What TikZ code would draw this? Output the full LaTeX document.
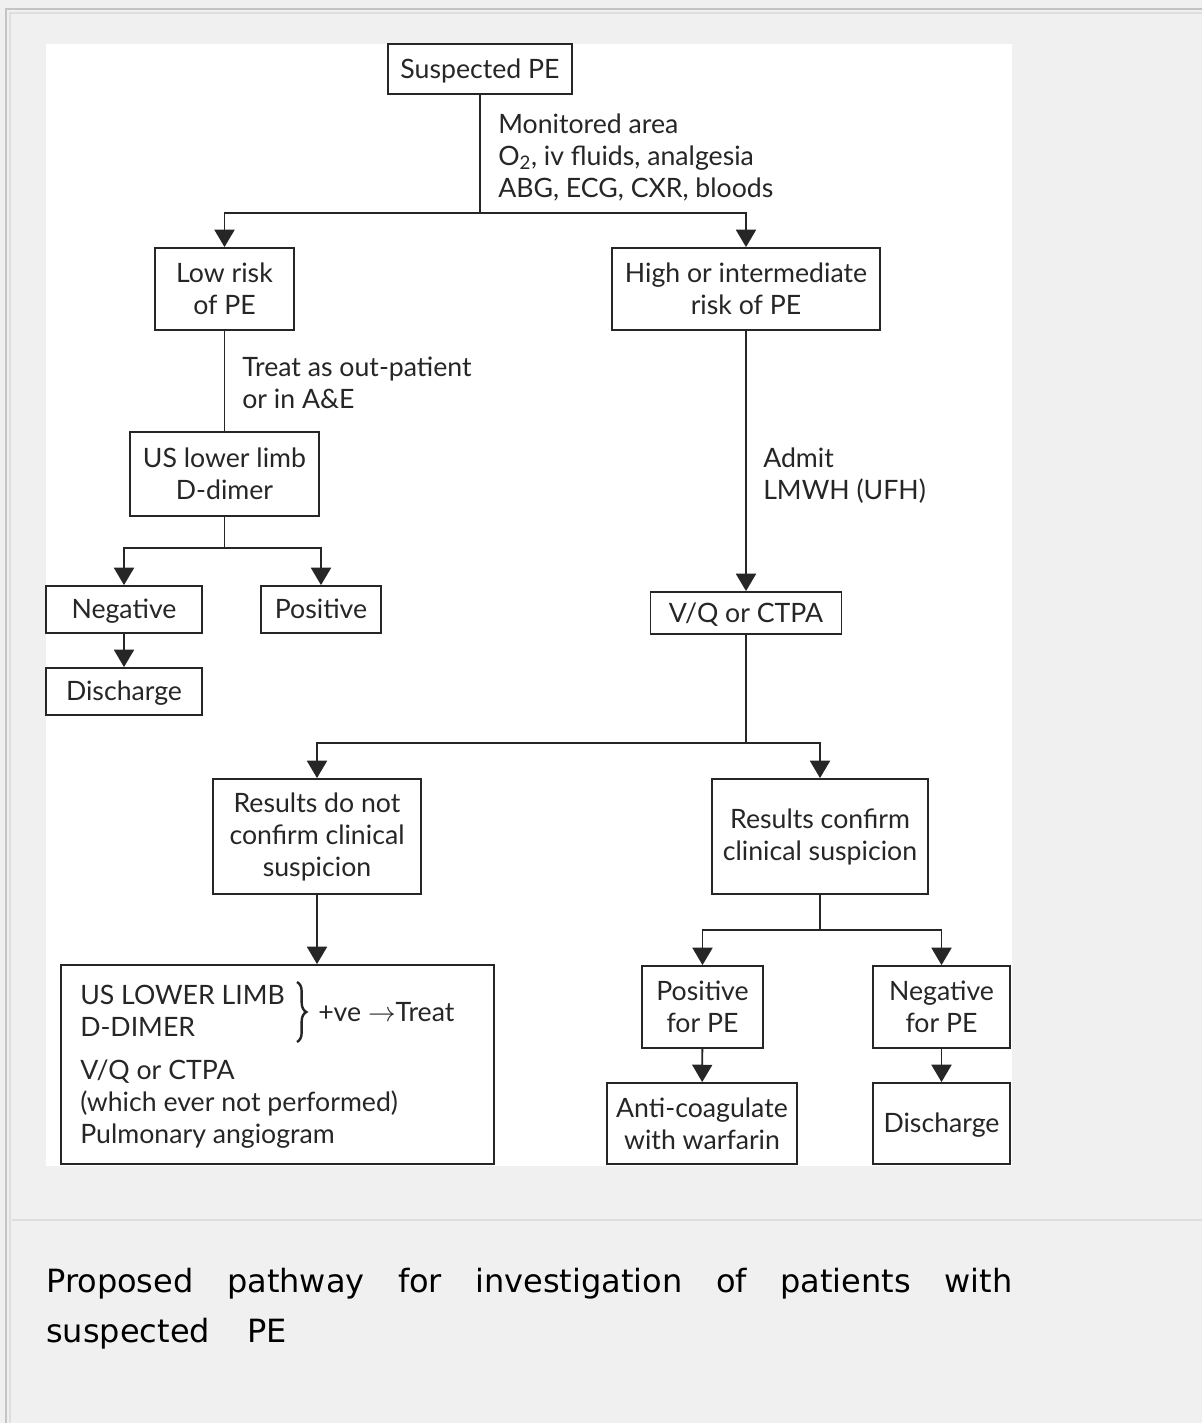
\documentclass[tikz,border=0pt]{standalone}
\usepackage{fontspec}
\setmainfont{Lato}
\newfontfamily\capfont{DejaVu Sans}
\usetikzlibrary{arrows.meta,decorations.pathreplacing}
\definecolor{pagebg}{HTML}{F0F0F0}
\definecolor{ink}{HTML}{262626}
\definecolor{frameA}{HTML}{C4C4C4}
\definecolor{frameB}{HTML}{DEDEDE}
\newcommand\dgfont{\fontsize{20}{24}\selectfont}
\newcommand\cpfont{\capfont\fontsize{24}{28}\selectfont}

\begin{document}
\begin{tikzpicture}[x=0.75pt,y=-0.75pt,
  box/.style={draw=ink, line width=1.4pt, fill=white, inner sep=0pt,
              align=center, font=\dgfont, text=ink},
  oneline/.style={text height=17pt, text depth=3pt},
  sz/.style 2 args={minimum width=#1*0.75pt, minimum height=#2*0.75pt},
  ln/.style={draw=ink, line width=1.4pt},
  arr/.style={ln, -{Triangle[width=15pt,length=13pt]}},
  lbl/.style={inner sep=0pt, anchor=west, align=left, font=\dgfont, text=ink},
  captxt/.style={inner sep=0pt, anchor=base west, font=\cpfont, text=black},
]
% page background and frame
\fill[pagebg] (0,0) rectangle (1202,1423);
\useasboundingbox (0,0) rectangle (1202,1423);
\draw[frameA, line width=0.9pt] (6,1423) -- (6,9) -- (1202,9);
\draw[frameB, line width=0.9pt] (10,1423) -- (10,13) -- (1202,13);
\draw[frameB, line width=1.2pt] (12,1220) -- (1202,1220);

% white panel holding the chart
\fill[white] (46,44) rectangle (1012,1166);

% boxes
\node[box, oneline, sz={184}{50}]  (susp) at (480,69)      {Suspected PE};
\node[box, sz={139}{82}]  (low)  at (224.5,289)   {Low risk\\of PE};
\node[box, sz={268}{82}]  (high) at (746,289)     {High or intermediate\\risk of PE};
\node[box, sz={189}{84}]  (us)   at (224.5,474)   {US lower limb\\D-dimer};
\node[box, oneline, sz={156}{47}]  (neg)  at (124,609.5)   {Negative};
\node[box, oneline, sz={120}{47}]  (pos)  at (321,609.5)   {Positive};
\node[box, oneline, sz={156}{47}]  (dis1) at (124,691.5)   {Discharge};
\node[box, oneline, sz={191}{42}]  (vq)   at (746,613)     {V/Q or CTPA};
\node[box, sz={208}{115}] (rno)  at (317,836.5)   {Results do not\\confirm clinical\\suspicion};
\node[box, sz={216}{115}] (rcf)  at (820,836.5)   {Results confirm\\clinical suspicion};
\node[box, sz={433}{199}] (big)  at (277.5,1064.5) {};
\node[box, sz={121}{82}]  (ppe)  at (702.5,1007)  {Positive\\for PE};
\node[box, sz={137}{82}]  (npe)  at (941.5,1007)  {Negative\\for PE};
\node[box, sz={190}{81}]  (anti) at (702,1123.5)  {Anti-coagulate\\with warfarin};
\node[box, oneline, sz={137}{81}]  (dis2) at (941.5,1123.5) {Discharge};

% contents of the large box
\node[lbl] (bigA) at (80,1011) {US LOWER LIMB\\D-DIMER};
\draw[ink, line width=1.8pt, decorate, decoration={brace, amplitude=7pt}]
  (297,982) -- (297,1042);
\node[lbl] (bigT) at (318,1012) {+ve $\rightarrow$Treat};
\node[lbl] (bigB) at (80,1104) {V/Q or CTPA\\(which ever not performed)\\Pulmonary angiogram};

% junction points
\coordinate (j1) at (480,213);
\coordinate (j2) at (224.5,548);
\coordinate (j3) at (746,743);
\coordinate (j4) at (820,930);

% connectors
\draw[ln]  (susp) -- (j1);
\draw[arr] (j1) -| (low);
\draw[arr] (j1) -| (high);
\draw[ln]  (low) -- (us);
\draw[ln]  (us) -- (j2);
\draw[arr] (j2) -| (neg);
\draw[arr] (j2) -| (pos);
\draw[arr] (neg) -- (dis1);
\draw[arr] (high) -- (vq);
\draw[ln]  (vq) -- (j3);
\draw[arr] (j3) -| (rno);
\draw[arr] (j3) -| (rcf);
\draw[arr] (rno) -- (rno |- big.north);
\draw[ln]  (rcf) -- (j4);
\draw[arr] (j4) -| (ppe);
\draw[arr] (j4) -| (npe);
\draw[arr] (ppe) -- (anti);
\draw[arr] (npe) -- (dis2);

% connector labels
\node[lbl] (l1) at (498,157) {Monitored area\\O\textsubscript{2}, iv fluids, analgesia\\ABG, ECG, CXR, bloods};
\node[lbl] (l2) at (242,383) {Treat as out-patient\\or in A\&E};
\node[lbl] (l3) at (763,476) {Admit\\LMWH (UFH)};

% caption
\node[captxt] (cap1) at (46,1292)
  {\makebox[724.5pt][s]{Proposed pathway for investigation of patients with}};
\node[captxt] (cap2) at (46,1342) {suspected\hspace{28pt}PE};
\end{tikzpicture}
\end{document}
